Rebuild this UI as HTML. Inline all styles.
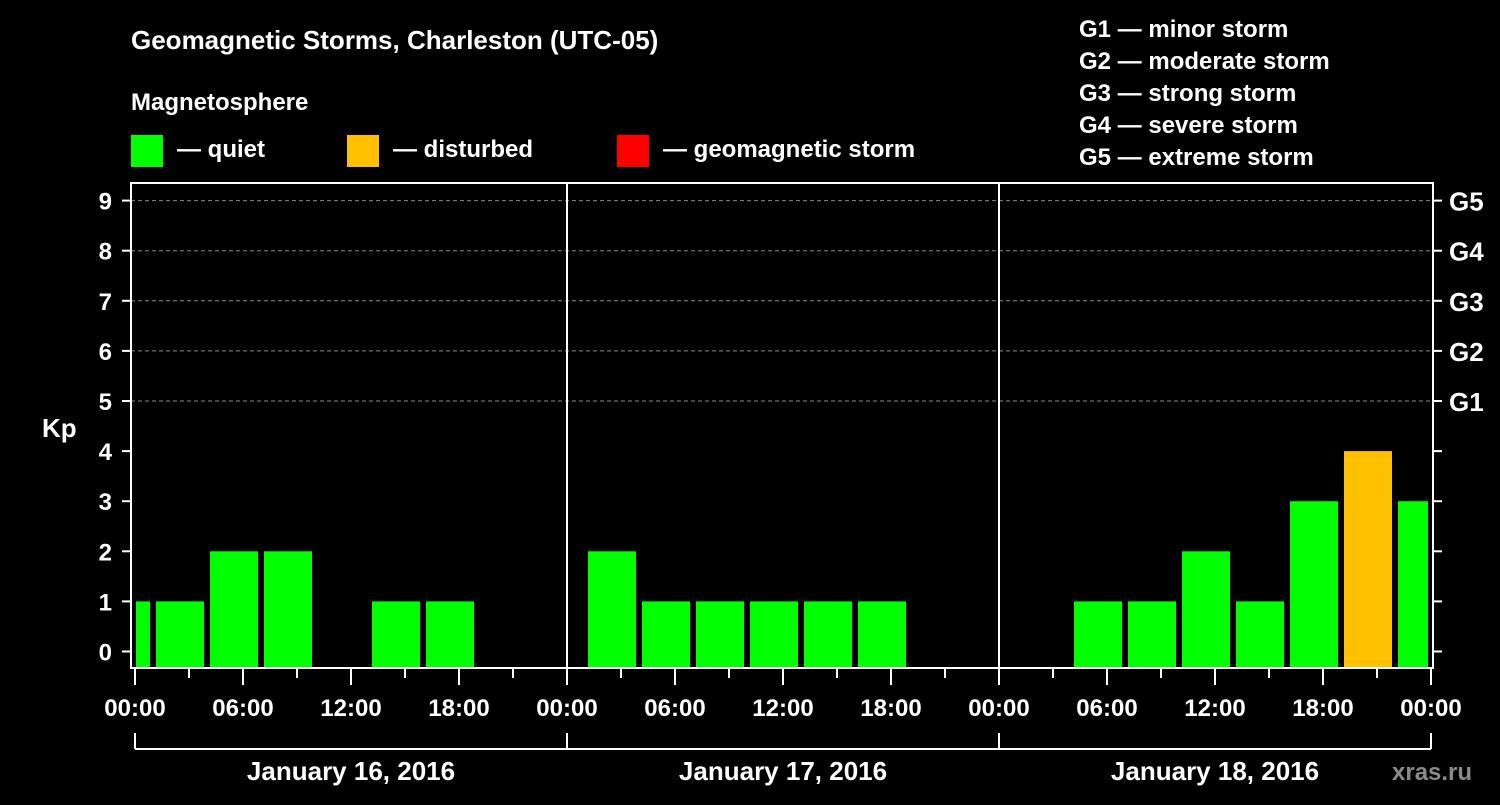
<!DOCTYPE html>
<html><head><meta charset="utf-8"><style>
html,body{margin:0;padding:0;background:#000;}
svg text{font-family:"Liberation Sans",Arial,sans-serif;font-weight:bold;fill:#fff;}
</style></head><body>
<svg id="chart" width="1500" height="800" viewBox="0 0 1500 800" xmlns="http://www.w3.org/2000/svg">
<rect width="1500" height="800" fill="#000"/>
<text x="131" y="49" font-size="26">Geomagnetic Storms, Charleston (UTC-05)</text>
<text x="131" y="110" font-size="24">Magnetosphere</text>
<g><rect x="131" y="135" width="32" height="32" fill="#00ff00"/><text x="177" y="157" font-size="24">— quiet</text></g>
<g><rect x="347" y="135" width="32" height="32" fill="#ffc000"/><text x="393" y="157" font-size="24">— disturbed</text></g>
<g><rect x="617" y="135" width="32" height="32" fill="#ff0000"/><text x="663" y="157" font-size="24">— geomagnetic storm</text></g>
<g font-size="24">
<text x="1079" y="37">G1 — minor storm</text>
<text x="1079" y="69">G2 — moderate storm</text>
<text x="1079" y="101">G3 — strong storm</text>
<text x="1079" y="133">G4 — severe storm</text>
<text x="1079" y="165">G5 — extreme storm</text>
</g>
<text x="42" y="437" font-size="26">Kp</text>
<text x="1392" y="780" font-size="24" fill="#888" style="fill:#8a8a8a">xras.ru</text>
<g id="grid"></g>
<g id="bars"></g>
<g id="axes"></g>
</svg>
<script>
const kpValues=[1, 1,2,2,null,1,1,null,null, 2,1,1,1,1,1,null,null, null,1,1,2,1,3,4,3];
const dayLabels=["January 16, 2016","January 17, 2016","January 18, 2016"];
const timeLabels=["00:00","06:00","12:00","18:00"];
const kpTicks=[0,1,2,3,4,5,6,7,8,9];
const stormLabels=["G1","G2","G3","G4","G5"];
const NS="http://www.w3.org/2000/svg";
const L=131,R=1433,T=183,B=668;
const x0=135,pxPerHour=18,offsetHours=-2;
const xh=h=>x0+h*pxPerHour;
const y=k=>651.5-k*50.1;
function mk(tag,attrs,parent,text){const e=document.createElementNS(NS,tag);for(const k in attrs)e.setAttribute(k,attrs[k]);if(text!==undefined)e.textContent=text;parent.appendChild(e);return e;}
const grid=document.getElementById('grid'),bars=document.getElementById('bars'),axes=document.getElementById('axes');
// grid lines
for(const k of kpTicks){if(k<5)continue;const g=mk('line',{x1:L,x2:R,y1:y(k),y2:y(k),stroke:'#888','stroke-dasharray':'4,3','stroke-width':1},grid);

}
// bars
kpValues.forEach((v,i)=>{if(v===null)return;
let xa=xh(offsetHours+i*3)+3,xb=xh(offsetHours+(i+1)*3)-3;
xa=Math.max(xa,136);xb=Math.min(xb,1428);
const r=mk('rect',{x:xa,y:y(v),width:xb-xa,height:B-y(v),fill:v>=5?'#ff0000':(v>=4?'#ffc000':'#00ff00')},bars);

});
// day separators
for(let d=1;d<3;d++){const s=mk('line',{x1:xh(d*24),x2:xh(d*24),y1:T,y2:B,stroke:'#fff','stroke-width':2},axes);

}
// frame
const f=mk('rect',{x:L,y:T,width:R-L,height:B-T,fill:'none',stroke:'#fff','stroke-width':2},axes);


// y ticks
kpTicks.forEach(k=>{mk('line',{x1:122,x2:L,y1:y(k),y2:y(k),stroke:'#fff','stroke-width':2},axes);
mk('line',{x1:R,x2:1442,y1:y(k),y2:y(k),stroke:'#fff','stroke-width':2},axes);
const t=mk('text',{x:112,y:y(k)+9,'font-size':24,'text-anchor':'end'},axes,String(k));

});
stormLabels.forEach((g,i)=>{const t=mk('text',{x:1449,y:y(i+5)+10,'font-size':26},axes,g);

});
// x ticks
for(let h=0;h<=72;h+=3){const major=h%6===0;mk('line',{x1:xh(h),x2:xh(h),y1:B,y2:major?685:678,stroke:'#fff','stroke-width':2},axes);
if(major){const t=mk('text',{x:xh(h),y:716,'font-size':24,'text-anchor':'middle'},axes,timeLabels[(h/6)%4]);

}}
// date bracket
mk('line',{x1:xh(0),x2:xh(72),y1:749,y2:749,stroke:'#fff','stroke-width':2},axes);
for(let d=0;d<=3;d++)mk('line',{x1:xh(d*24),x2:xh(d*24),y1:733,y2:749,stroke:'#fff','stroke-width':2},axes);
dayLabels.forEach((lab,d)=>{const t=mk('text',{x:xh(d*24+12),y:780,'font-size':26,'text-anchor':'middle'},axes,lab);

});
</script>
</body></html>
